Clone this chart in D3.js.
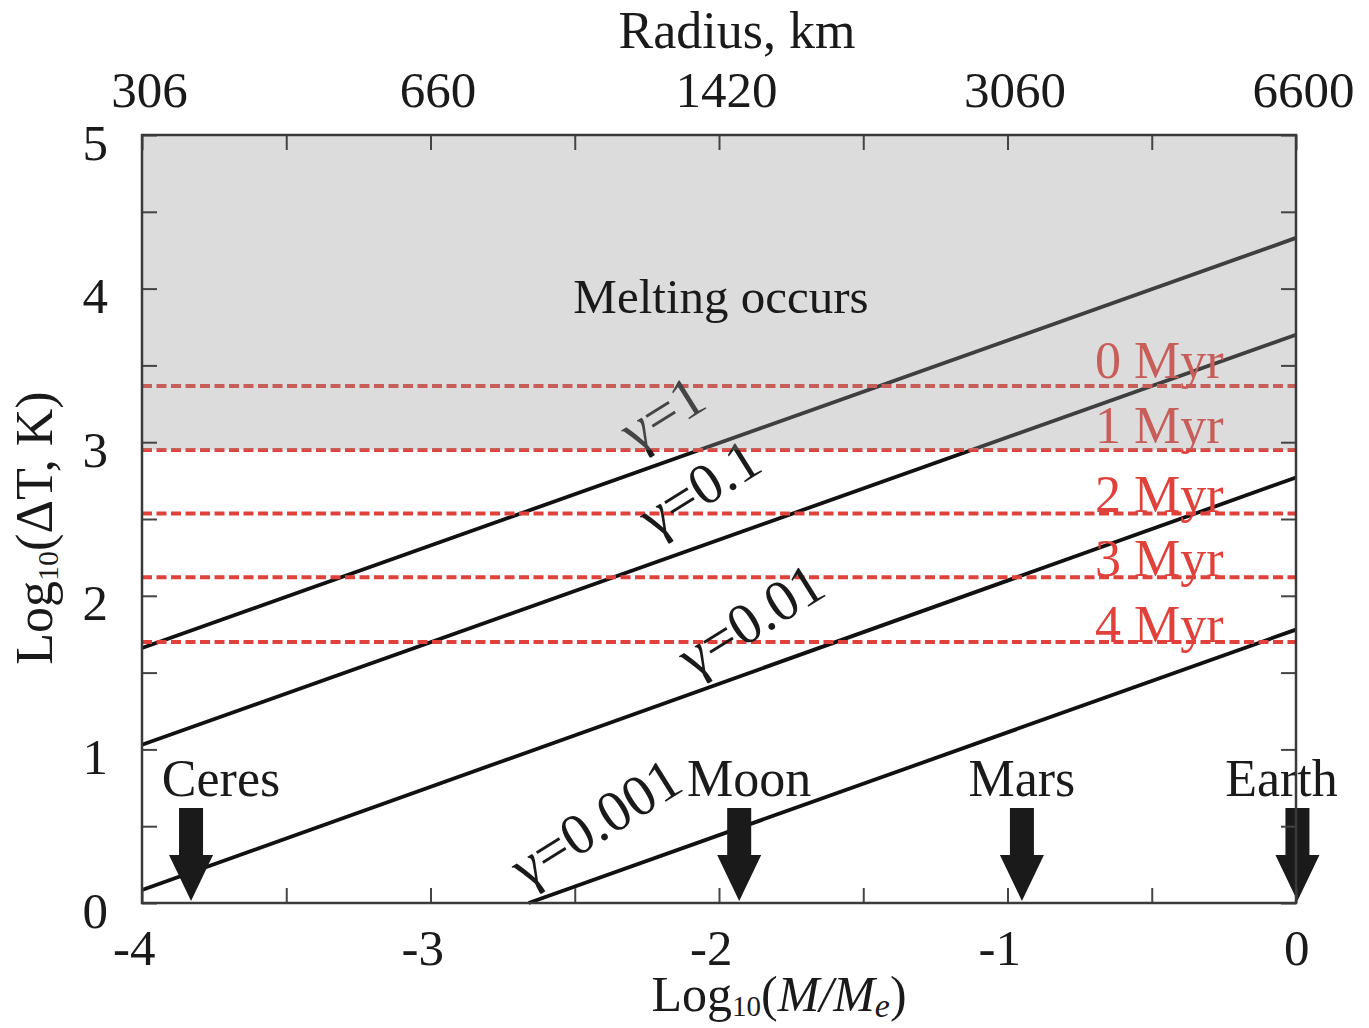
<!DOCTYPE html>
<html lang="en">
<head>
<meta charset="UTF-8">
<title>Melting vs planet mass</title>
<style>
    body { margin: 0; background: #fff; }
    svg { display: block; }
    text { font-family: 'Liberation Serif', 'Times New Roman', serif; fill: #1a1a1a; }
</style>
</head>
<body>
<svg id="chart" width="1369" height="1028"></svg>
<script src="https://d3js.org/d3.v7.min.js"></script>
<script>
// data
const xTicks = [-4, -3.5, -3, -2.5, -2, -1.5, -1, -0.5, 0];
const yTicks = [0, 0.5, 1, 1.5, 2, 2.5, 3, 3.5, 4, 4.5, 5];
const radiusLabels = ["306", "660", "1420", "3060", "6600"];   // at log M = -4..0

const gammaNames  = ["γ=1", "γ=0.1", "γ=0.01", "γ=0.001"];
const gammaX0     = [-4, -4, -4, -2.66];
const gammaY0     = [1.66, 1.03, 0.085, 0];
const gammaX1     = [0, 0, 0, 0];
const gammaY1     = [4.33, 3.70, 2.77, 1.78];
const gammaLabelX = [-2.29, -2.225, -2.09, -2.67];
const gammaLabelY = [2.93, 2.37, 1.46, 0.09];

const myrNames  = ["0 Myr", "1 Myr", "2 Myr", "3 Myr", "4 Myr"];
const myrLevels = [3.366, 2.95, 2.535, 2.12, 1.70];
const myrDy     = [-8, -7, -2, -1, 0];
const meltLevel = 2.95;   // grey region starts here

const planets    = ["Ceres", "Moon", "Mars", "Earth"];
const planetMass = [-3.83, -1.93, -0.95, 0.005];
const planetDx   = [30, 10, 0, -16];   // label shift from arrow

const svg = d3.select("#chart");
const W = 1369, H = 1028;
const m = { left: 142, right: 73, top: 135, bottom: 125 };

const x = d3.scaleLinear().domain([-4, 0]).range([m.left, W - m.right]);
const y = d3.scaleLinear().domain([0, 5]).range([H - m.bottom, m.top]);

const fontSize = 51;

// gamma lines
svg.append("g").selectAll("line")
    .data(gammaNames)
    .join("line")
    .attr("x1", (d, i) => x(gammaX0[i]))
    .attr("y1", (d, i) => y(gammaY0[i]))
    .attr("x2", (d, i) => x(gammaX1[i]))
    .attr("y2", (d, i) => y(gammaY1[i]))
    .attr("stroke", "#111")
    .attr("stroke-width", 3.8);

// dashed red lines
svg.append("g").selectAll("line")
    .data(myrLevels)
    .join("line")
    .attr("x1", x(-4)).attr("x2", x(0))
    .attr("y1", d => y(d)).attr("y2", d => y(d))
    .attr("stroke", "#e0413a")
    .attr("stroke-width", 4)
    .attr("stroke-dasharray", "10,4.5");

svg.append("g").selectAll("text")
    .data(myrNames)
    .join("text")
    .attr("x", 1095)
    .attr("y", (d, i) => y(myrLevels[i]) + myrDy[i])
    .attr("font-size", 52)
    .style("fill", "#e0413a")
    .text(d => d);

// gamma labels, rotated
svg.append("g").selectAll("text")
    .data(gammaNames)
    .join("text")
    .attr("transform", (d, i) => `translate(${x(gammaLabelX[i])},${y(gammaLabelY[i])}) rotate(-32)`)
    .attr("font-size", 58)
    .text(d => d);

// grey "melting" region, drawn on top as a translucent layer
svg.append("rect")
    .attr("x", x(-4)).attr("y", y(5))
    .attr("width", x(0) - x(-4))
    .attr("height", y(meltLevel) - y(5))
    .attr("fill", "#979797")
    .attr("fill-opacity", 0.34);

svg.append("text")
    .attr("x", 721).attr("y", 313)
    .attr("text-anchor", "middle")
    .attr("font-size", 49)
    .text("Melting occurs");

// planet arrows
const arrow = svg.append("g").selectAll("g")
    .data(planets)
    .join("g")
    .attr("transform", (d, i) => `translate(${x(planetMass[i])},0)`);

arrow.append("path")
    .attr("d", () => {
        const tip = y(0) - 2, headTop = tip - 46, shaftTop = tip - 93;
        return `M-12,${shaftTop}H12V${headTop}H22L0,${tip}L-22,${headTop}H-12Z`;
    })
    .attr("fill", "#1a1a1a");

arrow.append("text")
    .attr("x", (d, i) => planetDx[i])
    .attr("y", 796)
    .attr("text-anchor", "middle")
    .attr("font-size", 52)
    .text(d => d);

// axes, ticks pointing inward
function styleAxis(g) {
    g.select(".domain").remove();
    g.selectAll(".tick line").attr("stroke", "#444").attr("stroke-width", 2);
}

const axBottom = svg.append("g")
    .attr("transform", `translate(0,${y(0)})`)
    .call(d3.axisBottom(x).tickValues(xTicks).tickSizeInner(-15).tickSizeOuter(0)
        .tickFormat(d => Number.isInteger(d) ? String(d) : ""))
    .call(styleAxis);
axBottom.selectAll("text")
    .attr("y", 62).attr("dy", 0).attr("dx", 13)
    .attr("text-anchor", "end")
    .attr("font-size", fontSize)
    .style("fill", "#1a1a1a");

const axTop = svg.append("g")
    .attr("transform", `translate(0,${y(5)})`)
    .call(d3.axisTop(x).tickValues(xTicks).tickSizeInner(-15).tickSizeOuter(0)
        .tickFormat(d => Number.isInteger(d) ? radiusLabels[d + 4] : ""))
    .call(styleAxis);
axTop.selectAll("text")
    .attr("y", -28).attr("dy", 0).attr("dx", 7)
    .attr("text-anchor", "middle")
    .attr("font-size", fontSize)
    .style("fill", "#1a1a1a");

const axLeft = svg.append("g")
    .attr("transform", `translate(${x(-4)},0)`)
    .call(d3.axisLeft(y).tickValues(yTicks).tickSizeInner(-15).tickSizeOuter(0)
        .tickFormat(d => Number.isInteger(d) ? String(d) : ""))
    .call(styleAxis);
axLeft.selectAll("text")
    .attr("x", -34).attr("dy", 0).attr("y", 24)
    .attr("text-anchor", "end")
    .attr("font-size", fontSize)
    .style("fill", "#1a1a1a");

svg.append("g")
    .attr("transform", `translate(${x(0)},0)`)
    .call(d3.axisRight(y).tickValues(yTicks).tickSizeInner(-15).tickSizeOuter(0).tickFormat(""))
    .call(styleAxis);

// frame
svg.append("rect")
    .attr("x", x(-4)).attr("y", y(5))
    .attr("width", x(0) - x(-4)).attr("height", y(0) - y(5))
    .attr("fill", "none")
    .attr("stroke", "#3a3a3a")
    .attr("stroke-width", 2.5);

// axis titles
svg.append("text")
    .attr("x", 737).attr("y", 48)
    .attr("text-anchor", "middle")
    .attr("font-size", 52)
    .text("Radius, km");

const xt = svg.append("text")
    .attr("x", 779).attr("y", 1011)
    .attr("text-anchor", "middle")
    .attr("font-size", 50);
xt.append("tspan").text("Log");
xt.append("tspan").attr("font-size", 29).attr("dy", 5).text("10");
xt.append("tspan").attr("dy", -5).text("(");
xt.append("tspan").attr("font-style", "italic").text("M/M");
xt.append("tspan").attr("font-style", "italic").attr("font-size", 34).attr("dy", 6).text("e");
xt.append("tspan").attr("dy", -6).text(")");

const yt = svg.append("text")
    .attr("transform", "translate(52,528) rotate(-90)")
    .attr("text-anchor", "middle")
    .attr("font-size", 52);
yt.append("tspan").text("Log");
yt.append("tspan").attr("font-size", 30).attr("dy", 6).text("10");
yt.append("tspan").attr("dy", -6).text("(ΔT, K)");
</script>
</body>
</html>
